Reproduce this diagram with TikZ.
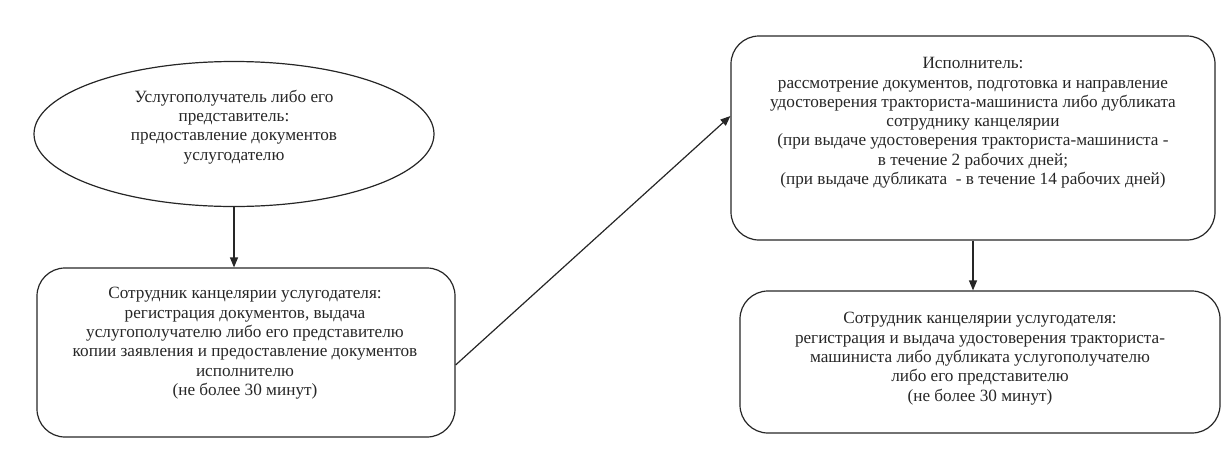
\documentclass[tikz,border=0pt]{standalone}
\usepackage{fontspec}
\setmainfont{Liberation Serif}
\usetikzlibrary{arrows.meta,shapes.geometric}
\begin{document}
\begin{tikzpicture}[x=1pt,y=-1pt,
  every node/.style={font=\fontsize{17.2}{19.3}\selectfont, align=center, text=black!85},
  stagebox/.style={draw=black!85, line width=1.2pt, rounded corners=28pt, inner sep=0pt},
  oval/.style={draw=black!85, line width=1.2pt, ellipse, inner sep=0pt},
  flow/.style={draw=black!85, line width=1.2pt, -{Triangle[length=10pt,width=8pt]}}]
  \useasboundingbox (0,0) rectangle (1231,461);

  % applicant
  \node[oval, minimum width=400pt, minimum height=145pt] (applicant) at (234,134) {};
  \node at (234,127) {Услугополучатель либо его\\представитель:\\предоставление документов\\услугодателю};

  % office registration
  \node[stagebox, minimum width=418pt, minimum height=169pt] (office) at (246,352.5) {};
  \node[anchor=north] at (245,284) {Сотрудник канцелярии услугодателя:\\регистрация документов, выдача\\услугополучателю либо его представителю\\копии заявления и предоставление документов\\исполнителю\\(не более 30 минут)};

  % executor
  \node[stagebox, minimum width=484pt, minimum height=204pt] (executor) at (973,138) {};
  \node[anchor=north] at (973,54) {Исполнитель:\\рассмотрение документов, подготовка и направление\\удостоверения тракториста-машиниста либо дубликата\\сотруднику канцелярии\\(при выдаче удостоверения тракториста-машиниста -\\в течение 2 рабочих дней;\\(при выдаче дубликата \ - в течение 14 рабочих дней)};

  % issuing
  \node[stagebox, minimum width=480pt, minimum height=142pt] (issue) at (980,362) {};
  \node[anchor=north] at (980,309) {Сотрудник канцелярии услугодателя:\\регистрация и выдача удостоверения тракториста-\\машиниста либо дубликата услугополучателю\\либо его представителю\\(не более 30 минут)};

  \draw[flow] (applicant.south) -- (applicant.south |- office.north);
  \draw[flow] (office.east |- 0,365) -- (executor.west |- 0,116);
  \draw[flow] (executor.south -| 973,0) -- (issue.north -| 973,0);
\end{tikzpicture}
\end{document}
